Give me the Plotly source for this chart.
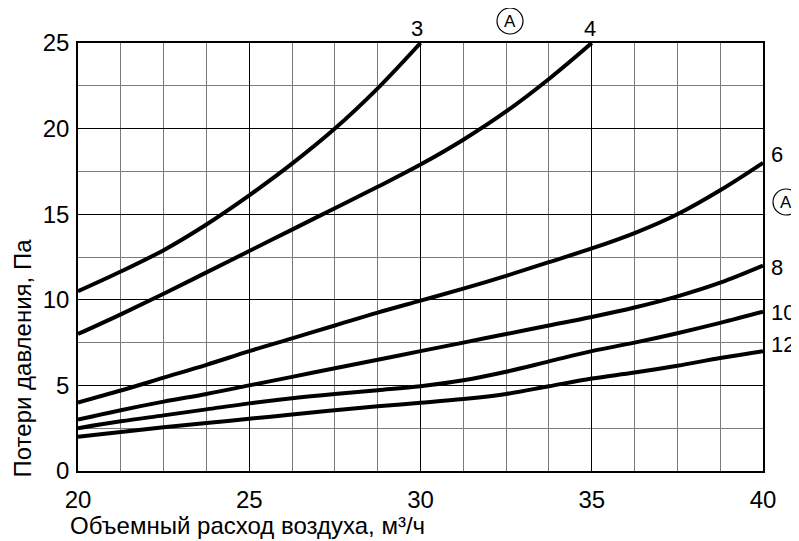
import plotly.graph_objects as go

# Flow (m³/h) sample points along the grid
x_full = [20, 21.25, 22.5, 23.75, 25, 26.25, 27.5, 28.75, 30,
          31.25, 32.5, 33.75, 35, 36.25, 37.5, 38.75, 40]

# Pressure loss (Pa) per curve
y3 = [10.5, 11.65, 12.9, 14.4, 16.1, 17.95, 20.0, 22.35, 25.0]
y4 = [8.0, 9.15, 10.35, 11.6, 12.85, 14.1, 15.35, 16.6, 17.9, 19.35, 21.0, 22.9, 25.0]
y6 = [4.0, 4.7, 5.45, 6.2, 7.0, 7.75, 8.5, 9.25, 9.95, 10.65, 11.4, 12.2, 13.0, 13.9, 15.0, 16.4, 18.0]
y8 = [3.0, 3.55, 4.05, 4.5, 5.0, 5.5, 6.0, 6.5, 7.0, 7.5, 8.0, 8.5, 9.0, 9.55, 10.2, 11.0, 12.0]
y10 = [2.5, 2.9, 3.25, 3.6, 3.95, 4.25, 4.5, 4.72, 4.95, 5.3, 5.8, 6.4, 7.0, 7.5, 8.05, 8.65, 9.3]
y12 = [2.0, 2.28, 2.55, 2.8, 3.05, 3.3, 3.55, 3.78, 3.98, 4.2, 4.5, 4.95, 5.4, 5.75, 6.15, 6.6, 7.0]

series = [("3", y3), ("4", y4), ("6", y6), ("8", y8), ("10", y10), ("12", y12)]

x_ticks = [20, 25, 30, 35, 40]
y_ticks = [0, 5, 10, 15, 20, 25]

FONT = "Liberation Sans, Arial, sans-serif"

fig = go.Figure()
for name, ys in series:
    fig.add_trace(go.Scatter(
        x=x_full[:len(ys)], y=ys, mode="lines", name=name,
        line=dict(color="black", width=4, shape="spline", smoothing=1.0),
        showlegend=False, hoverinfo="skip"))

axis_common = dict(
    showline=True, linecolor="black", linewidth=1.5, mirror=True,
    showgrid=True, gridcolor="black", gridwidth=1.3,
    zeroline=False, ticks="", tickfont=dict(family=FONT, size=24, color="black"),
)

fig.update_xaxes(range=[20, 40], tickvals=x_ticks,
                 minor=dict(dtick=1.25, tick0=20, showgrid=True, gridcolor="#7a7a7a", gridwidth=1),
                 ticklabelstandoff=6, **axis_common)
fig.update_yaxes(range=[0, 25], tickvals=y_ticks,
                 minor=dict(dtick=2.5, tick0=0, showgrid=True, gridcolor="#7a7a7a", gridwidth=1),
                 ticklabelstandoff=2, **axis_common)

# geometry of plot area inside the figure (figure is offset by the page's 8px body margin)
L, T, PW, PH = 70, 35, 685, 428
OFF = 8

def px_to_paper(px, py):
    return (px - OFF - L) / PW, 1 - (py - OFF - T) / PH

annotations = []
lab_font = dict(family=FONT, size=22, color="black")
# curve labels at the top
annotations.append(dict(x=29.9, xref="x", y=1, yref="paper", yanchor="middle", yshift=15,
                        text="3", showarrow=False, font=lab_font))
annotations.append(dict(x=34.95, xref="x", y=1, yref="paper", yanchor="middle", yshift=15,
                        text="4", showarrow=False, font=lab_font))
# curve labels on the right
for txt, yv, sh in [("6", 18.46, 14), ("8", 11.9, 14), ("10", 9.25, 20), ("12", 7.4, 20)]:
    annotations.append(dict(x=1, xref="paper", xanchor="center", xshift=sh, y=yv, yref="y",
                            yanchor="middle", text=txt, showarrow=False, font=lab_font))
# circled A markers
a_font = dict(family=FONT, size=17, color="black")
for (cx, cy) in [(510, 21), (786, 202)]:
    px, py = px_to_paper(cx, cy)
    annotations.append(dict(x=px, xref="paper", y=py, yref="paper", xanchor="center",
                            yanchor="middle", text="A", showarrow=False, font=a_font))
# axis titles
annotations.append(dict(x=0, xref="paper", xanchor="left", xshift=-10, y=0, yref="paper",
                        yanchor="middle", yshift=-54, text="Объемный расход воздуха, м³/ч",
                        showarrow=False, font=dict(family=FONT, size=24, color="black")))
annotations.append(dict(x=0, xref="paper", xanchor="center", xshift=-56, y=0, yref="paper",
                        yanchor="bottom", yshift=-9, textangle=-90, text="Потери давления, Па",
                        showarrow=False, font=dict(family=FONT, size=24, color="black")))

shapes = []
for (cx, cy) in [(510, 21), (786, 202)]:
    px, py = px_to_paper(cx, cy)
    shapes.append(dict(type="circle", xref="paper", yref="paper", xsizemode="pixel",
                       ysizemode="pixel", xanchor=px, yanchor=py, x0=-13, x1=13, y0=-13, y1=13,
                       line=dict(color="black", width=1.2)))

fig.update_layout(
    width=791, height=533,
    margin=dict(l=L, r=791 - L - PW, t=T, b=533 - T - PH),
    paper_bgcolor="white", plot_bgcolor="white",
    annotations=annotations, shapes=shapes,
    font=dict(family=FONT, color="black"),
)

fig.write_html("out.html")
